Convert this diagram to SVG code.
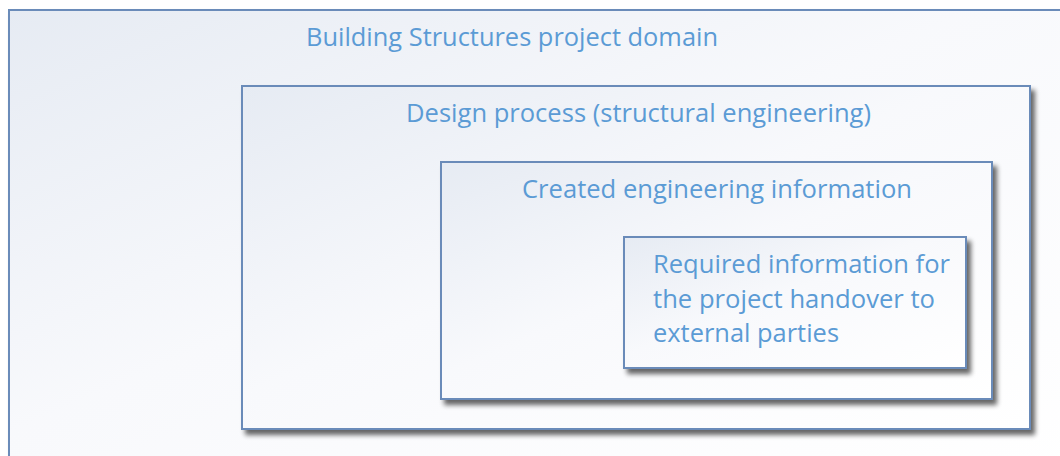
<svg xmlns="http://www.w3.org/2000/svg" width="1060" height="456" viewBox="0 0 1060 456">
<defs>
<linearGradient id="g" x1="0" y1="0" x2="1" y2="1">
<stop offset="0" stop-color="#e6ebf3"/>
<stop offset="0.45" stop-color="#f8f9fc"/>
<stop offset="1" stop-color="#ffffff"/>
</linearGradient>
<filter id="sh" x="-5%" y="-5%" width="115%" height="120%">
<feGaussianBlur in="SourceAlpha" stdDeviation="2.5"/>
<feOffset dx="4" dy="5" result="b"/>
<feComponentTransfer><feFuncA type="linear" slope="0.6"/></feComponentTransfer>
<feMerge><feMergeNode/><feMergeNode in="SourceGraphic"/></feMerge>
</filter>
<style>
.box{fill:url(#g);stroke:#6a8bb9;stroke-width:2}
.t{font-family:"Open Sans","Liberation Sans",sans-serif;font-size:26px;fill:#5b9bd5}
</style>
</defs>
<rect width="1060" height="456" fill="#ffffff"/>
<g id="domain">
<rect class="box" x="9" y="10" width="1070" height="470" filter="url(#sh)"/>
<text class="t" x="306" y="46" textLength="412" lengthAdjust="spacingAndGlyphs">Building Structures project domain</text>
</g>
<g id="design">
<rect class="box" x="242" y="86" width="788" height="343" filter="url(#sh)"/>
<text class="t" x="406" y="122" textLength="465" lengthAdjust="spacingAndGlyphs">Design process (structural engineering)</text>
</g>
<g id="created">
<rect class="box" x="441" y="162" width="551" height="237" filter="url(#sh)"/>
<text class="t" x="522" y="198" textLength="390" lengthAdjust="spacingAndGlyphs">Created engineering information</text>
</g>
<g id="required">
<rect class="box" x="624" y="237" width="342" height="131" filter="url(#sh)"/>
<text class="t" x="653" y="273" textLength="297" lengthAdjust="spacingAndGlyphs">Required information for</text>
<text class="t" x="653" y="308" textLength="282" lengthAdjust="spacingAndGlyphs">the project handover to</text>
<text class="t" x="653" y="342" textLength="186" lengthAdjust="spacingAndGlyphs">external parties</text>
</g>
<g id="connectors"/>
</svg>
